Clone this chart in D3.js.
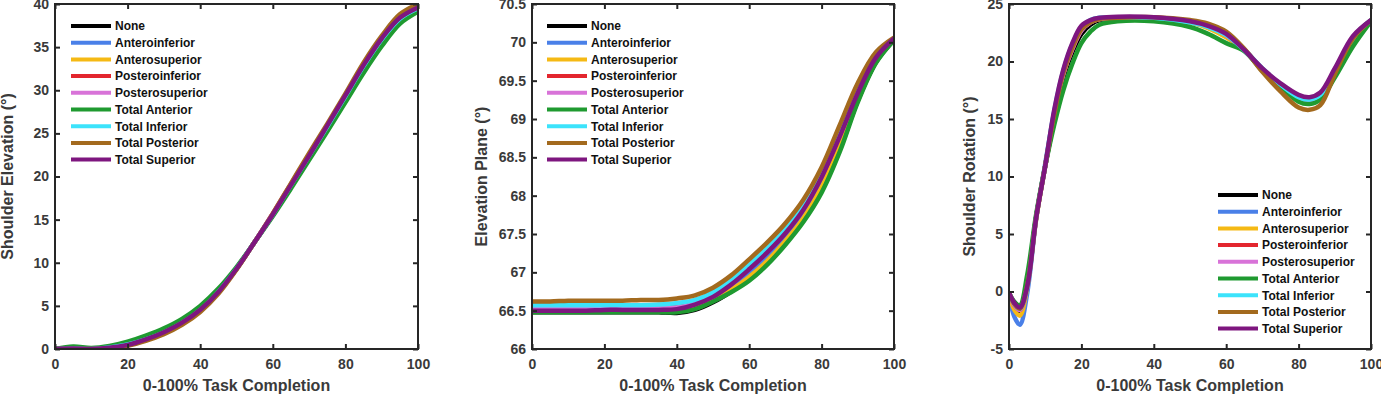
<html>

<head>
    <style>
        body { margin: 0; background: #fff; }
        svg text { font-family: "Liberation Sans", Arial, Helvetica, sans-serif; font-weight: bold; }
        .axis text { font-size: 14px; fill: #3a3a3a; }
        .axis line { stroke: #262626; stroke-width: 2px; }
        .axis path { display: none; }
        .title { font-size: 16px; fill: #3a3a3a; }
        .legend text { font-size: 12px; fill: #111; }
    </style>
</head>

<body>
    <script src="https://d3js.org/d3.v7.min.js"></script>
    <script>
        var width = 1381, height = 394, plotTop = 4, plotBottom = 349;

        var seriesNames = ["None", "Anteroinferior", "Anterosuperior", "Posteroinferior", "Posterosuperior",
            "Total Anterior", "Total Inferior", "Total Posterior", "Total Superior"];
        var seriesColors = ["#000000", "#4a80e8", "#f5b914", "#e3262e", "#d873d8",
            "#1f9a30", "#3ce3fb", "#a36a1e", "#7e167f"];

        var xTicks = [0, 20, 40, 60, 80, 100];
        var elevationTicks = [0, 5, 10, 15, 20, 25, 30, 35, 40];
        var planeTicks = [66, 66.5, 67, 67.5, 68, 68.5, 69, 69.5, 70, 70.5];
        var rotationTicks = [-5, 0, 5, 10, 15, 20, 25];

        // % task completion sampled every 5
        var taskX = [0, 5, 10, 15, 20, 25, 30, 35, 40, 45, 50, 55, 60, 65, 70, 75, 80, 85, 90, 95, 100];
        // denser at the start for the rotation dip
        var rotationX = [0, 1.5, 3, 5, 7.5, 10, 12.5, 15, 17.5, 20, 22.5, 25, 30, 40, 50, 55, 60, 65, 70, 75, 80, 83, 86, 90, 95, 100];

        // one row per series, same order as seriesNames
        var elevationValues = [
            [0, 0.05, 0, 0.15, 0.5, 1.1, 1.9, 3.0, 4.5, 6.6, 9.3, 12.4, 15.6, 19.0, 22.4, 25.8, 29.3, 32.8, 35.9, 38.3, 39.5],
            [0, 0.08, 0.02, 0.2, 0.55, 1.15, 1.95, 3.05, 4.55, 6.65, 9.3, 12.4, 15.6, 19.0, 22.3, 25.7, 29.2, 32.7, 35.8, 38.2, 39.4],
            [0, 0.05, 0, 0.15, 0.5, 1.1, 1.9, 3.0, 4.5, 6.6, 9.3, 12.4, 15.6, 19.0, 22.4, 25.8, 29.3, 32.8, 35.9, 38.3, 39.5],
            [0, 0.05, 0, 0.12, 0.45, 1.05, 1.85, 2.95, 4.45, 6.55, 9.3, 12.4, 15.7, 19.1, 22.5, 25.9, 29.4, 32.9, 36.0, 38.4, 39.6],
            [0, 0.05, 0, 0.13, 0.47, 1.07, 1.87, 2.97, 4.47, 6.57, 9.3, 12.4, 15.7, 19.1, 22.5, 25.9, 29.4, 32.9, 36.0, 38.4, 39.6],
            [0, 0.3, 0.12, 0.35, 0.85, 1.55, 2.4, 3.5, 5.0, 7.0, 9.5, 12.4, 15.4, 18.6, 21.9, 25.2, 28.6, 32.0, 35.1, 37.7, 39.1],
            [0, 0.06, 0.01, 0.18, 0.52, 1.12, 1.92, 3.02, 4.52, 6.62, 9.3, 12.4, 15.6, 19.0, 22.4, 25.8, 29.3, 32.8, 35.9, 38.3, 39.5],
            [0, 0, 0, 0.08, 0.38, 0.95, 1.72, 2.8, 4.3, 6.4, 9.2, 12.4, 15.7, 19.2, 22.7, 26.1, 29.6, 33.2, 36.3, 38.8, 40.0],
            [0, 0.05, 0, 0.14, 0.48, 1.12, 1.95, 3.05, 4.55, 6.62, 9.3, 12.4, 15.6, 19.0, 22.4, 25.9, 29.4, 32.9, 36.0, 38.4, 39.6]
        ];

        var planeValues = [
            [66.48, 66.48, 66.48, 66.48, 66.48, 66.48, 66.48, 66.48, 66.47, 66.51, 66.61, 66.75, 66.92, 67.13, 67.39, 67.69, 68.08, 68.60, 69.24, 69.74, 70.03],
            [66.50, 66.50, 66.50, 66.50, 66.50, 66.50, 66.50, 66.50, 66.51, 66.56, 66.66, 66.81, 67.00, 67.22, 67.47, 67.78, 68.19, 68.72, 69.30, 69.78, 70.04],
            [66.49, 66.49, 66.49, 66.49, 66.49, 66.49, 66.49, 66.49, 66.49, 66.53, 66.63, 66.77, 66.94, 67.15, 67.41, 67.71, 68.11, 68.64, 69.26, 69.75, 70.04],
            [66.53, 66.53, 66.53, 66.53, 66.53, 66.53, 66.53, 66.54, 66.55, 66.60, 66.70, 66.86, 67.06, 67.28, 67.53, 67.84, 68.26, 68.79, 69.35, 69.80, 70.05],
            [66.52, 66.52, 66.52, 66.52, 66.52, 66.52, 66.52, 66.53, 66.54, 66.59, 66.69, 66.85, 67.05, 67.27, 67.52, 67.83, 68.25, 68.78, 69.35, 69.80, 70.05],
            [66.48, 66.48, 66.48, 66.48, 66.48, 66.48, 66.48, 66.48, 66.48, 66.52, 66.62, 66.74, 66.89, 67.10, 67.36, 67.66, 68.04, 68.57, 69.22, 69.73, 70.03],
            [66.57, 66.57, 66.57, 66.57, 66.57, 66.57, 66.57, 66.58, 66.60, 66.64, 66.74, 66.90, 67.10, 67.32, 67.57, 67.88, 68.30, 68.85, 69.40, 69.83, 70.05],
            [66.62, 66.62, 66.63, 66.63, 66.63, 66.63, 66.64, 66.64, 66.66, 66.70, 66.80, 66.96, 67.17, 67.39, 67.64, 67.95, 68.37, 68.92, 69.47, 69.87, 70.06],
            [66.50, 66.50, 66.50, 66.50, 66.51, 66.51, 66.51, 66.51, 66.52, 66.58, 66.68, 66.84, 67.04, 67.26, 67.51, 67.82, 68.24, 68.77, 69.34, 69.80, 70.05]
        ];

        var rotationValues = [
            [-0.2, -1.3, -1.7, 0.6, 6.5, 10.9, 15.0, 18.6, 20.8, 22.4, 23.2, 23.6, 23.7, 23.8, 23.4, 23.0, 22.2, 21.0, 19.3, 17.9, 16.8, 16.6, 17.0, 19.1, 22.0, 23.6],
            [-0.3, -2.2, -2.9, -0.2, 6.3, 11.1, 15.6, 19.0, 21.2, 22.7, 23.4, 23.7, 23.8, 23.8, 23.4, 23.0, 22.2, 21.0, 19.3, 17.9, 16.8, 16.6, 17.0, 19.1, 22.0, 23.6],
            [-0.2, -1.6, -2.1, 0.3, 6.3, 10.9, 15.5, 19.1, 21.4, 22.9, 23.5, 23.7, 23.8, 23.8, 23.4, 22.9, 22.1, 21.0, 19.3, 17.9, 16.8, 16.6, 17.0, 19.1, 22.0, 23.6],
            [-0.15, -1.2, -1.6, 0.5, 6.4, 10.9, 15.3, 18.9, 21.1, 22.7, 23.4, 23.7, 23.8, 23.8, 23.5, 23.1, 22.3, 21.0, 19.3, 17.8, 16.7, 16.5, 16.9, 19.0, 22.0, 23.6],
            [-0.15, -1.2, -1.6, 0.5, 6.4, 10.9, 15.3, 18.9, 21.1, 22.7, 23.4, 23.7, 23.8, 23.8, 23.5, 23.1, 22.3, 21.0, 19.3, 17.8, 16.7, 16.5, 16.9, 19.0, 22.0, 23.6],
            [-0.1, -0.9, -1.2, 1.4, 6.7, 10.9, 14.5, 17.5, 19.8, 21.6, 22.6, 23.2, 23.5, 23.5, 23.0, 22.4, 21.6, 20.9, 19.2, 17.8, 16.5, 16.3, 16.7, 18.6, 21.3, 23.5],
            [-0.1, -1.1, -1.5, 0.4, 6.4, 10.9, 15.7, 19.2, 21.5, 23.0, 23.6, 23.8, 23.85, 23.8, 23.4, 23.0, 22.3, 21.0, 19.4, 18.0, 16.9, 16.7, 17.1, 19.2, 22.1, 23.6],
            [-0.1, -1.1, -1.5, 0.5, 6.4, 10.9, 15.4, 19.0, 21.2, 22.8, 23.4, 23.7, 23.8, 23.85, 23.6, 23.3, 22.6, 21.1, 19.1, 17.4, 16.0, 15.8, 16.2, 18.9, 22.0, 23.6],
            [-0.1, -1.0, -1.4, 0.4, 6.4, 10.9, 15.8, 19.3, 21.6, 23.1, 23.6, 23.8, 23.9, 23.85, 23.5, 23.1, 22.4, 21.0, 19.4, 18.1, 17.1, 16.9, 17.3, 19.4, 22.2, 23.6]
        ];

        var panels = [
            { xs: taskX, values: elevationValues, yTicks: elevationTicks, yLabel: "Shoulder Elevation (°)",
              left: 55, right: 418, labelX: 13, legendX: 71, legendY: 26 },
            { xs: taskX, values: planeValues, yTicks: planeTicks, yLabel: "Elevation Plane (°)",
              left: 532, right: 894, labelX: 487, legendX: 547, legendY: 26 },
            { xs: rotationX, values: rotationValues, yTicks: rotationTicks, yLabel: "Shoulder Rotation (°)",
              left: 1009, right: 1371, labelX: 975, legendX: 1218, legendY: 195 }
        ];

        var svg = d3.select("body")
            .append("svg")
            .attr("width", width)
            .attr("height", height);

        panels.forEach(function (p, pi) {
            var x = d3.scaleLinear().domain([0, 100]).range([p.left, p.right]);
            var y = d3.scaleLinear()
                .domain([p.yTicks[0], p.yTicks[p.yTicks.length - 1]])
                .range([plotBottom, plotTop]);

            var g = svg.append("g");

            g.append("clipPath")
                .attr("id", "clip" + pi)
                .append("rect")
                .attr("x", p.left).attr("y", plotTop)
                .attr("width", p.right - p.left).attr("height", plotBottom - plotTop);

            // catmull-rom keeps the sampled points but gives smoother bends
            var line = d3.line()
                .curve(d3.curveCatmullRom.alpha(0.5))
                .x(function (d, i) { return x(p.xs[i]); })
                .y(function (d) { return y(d); });

            g.append("g")
                .attr("clip-path", "url(#clip" + pi + ")")
                .selectAll("path")
                .data(p.values)
                .enter().append("path")
                .attr("d", line)
                .attr("fill", "none")
                .attr("stroke", function (d, i) { return seriesColors[i]; })
                .attr("stroke-width", 4.5)
                .attr("stroke-linejoin", "round");

            // inward ticks on all four sides, like a boxed matlab axes
            g.append("g").attr("class", "axis")
                .attr("transform", "translate(0," + plotBottom + ")")
                .call(d3.axisBottom(x).tickValues(xTicks).tickSizeInner(-5).tickSizeOuter(0).tickPadding(10));
            g.append("g").attr("class", "axis")
                .attr("transform", "translate(0," + plotTop + ")")
                .call(d3.axisTop(x).tickValues(xTicks).tickSizeInner(-5).tickSizeOuter(0).tickFormat(""));
            g.append("g").attr("class", "axis")
                .attr("transform", "translate(" + p.left + ",0)")
                .call(d3.axisLeft(y).tickValues(p.yTicks).tickSizeInner(-5).tickSizeOuter(0).tickPadding(6)
                    .tickFormat(function (d) { return String(d); }));
            g.append("g").attr("class", "axis")
                .attr("transform", "translate(" + p.right + ",0)")
                .call(d3.axisRight(y).tickValues(p.yTicks).tickSizeInner(-5).tickSizeOuter(0).tickFormat(""));

            g.append("rect")
                .attr("x", p.left).attr("y", plotTop)
                .attr("width", p.right - p.left).attr("height", plotBottom - plotTop)
                .attr("fill", "none")
                .attr("stroke", "#262626")
                .attr("stroke-width", 2);

            g.append("text")
                .attr("class", "title")
                .attr("x", (p.left + p.right) / 2)
                .attr("y", 391)
                .attr("text-anchor", "middle")
                .text("0-100% Task Completion");

            g.append("text")
                .attr("class", "title")
                .attr("transform", "translate(" + p.labelX + "," + (plotTop + plotBottom) / 2 + ") rotate(-90)")
                .attr("text-anchor", "middle")
                .text(p.yLabel);

            var legend = g.append("g").attr("class", "legend")
                .selectAll("g")
                .data(seriesNames)
                .enter().append("g")
                .attr("transform", function (d, i) { return "translate(" + p.legendX + "," + (p.legendY + i * 16.7) + ")"; });

            legend.append("line")
                .attr("x1", 0).attr("x2", 40)
                .attr("stroke", function (d, i) { return seriesColors[i]; })
                .attr("stroke-width", 4);

            legend.append("text")
                .attr("x", 44)
                .attr("dy", "0.36em")
                .text(function (d) { return d; });
        });
    </script>
</body>

</html>
